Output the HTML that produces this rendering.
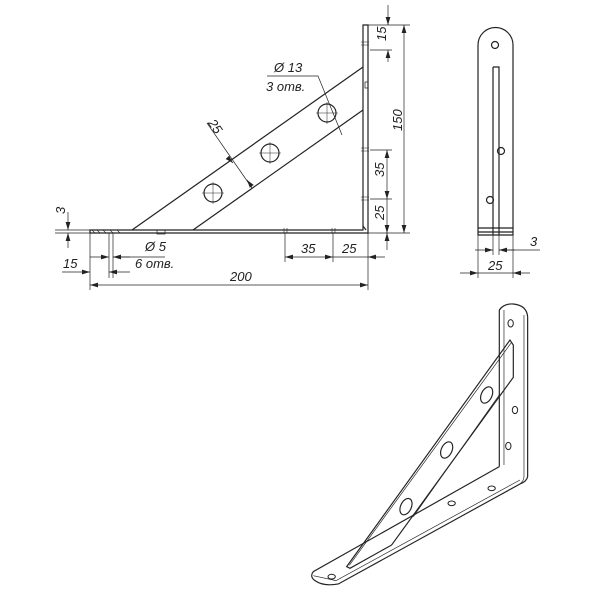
<!DOCTYPE html>
<html><head><meta charset="utf-8"><style>
html,body{margin:0;padding:0;background:#fff;}
svg{display:block;}
text{font-family:"Liberation Sans",sans-serif;font-style:italic;font-size:13px;fill:#222;}
</style></head><body>
<svg width="600" height="600" viewBox="0 0 600 600" xmlns="http://www.w3.org/2000/svg">
<defs>
<marker id="a" viewBox="0 0 10 6" refX="10" refY="3" markerWidth="8" markerHeight="5" orient="auto-start-reverse" markerUnits="userSpaceOnUse"><path d="M0,0L10,3L0,6z" fill="#222"/></marker>
</defs>
<g stroke="#222" fill="none" stroke-width="1.2">
<!-- front view -->
<path d="M90,230 H363 V25 H368 V233 H90 Z"/>
<path d="M363,226 L366,230" />
<line x1="132" y1="230" x2="363" y2="67"/>
<line x1="193" y1="230" x2="363" y2="110"/>
<circle cx="213" cy="193" r="9"/><circle cx="270" cy="153" r="9"/><circle cx="327" cy="113" r="9"/>
<g stroke-width="0.5"><path d="M202,193h22M213,182v22M259,153h22M270,142v22M316,113h22M327,102v22"/></g>
<rect x="157" y="230" width="8" height="4" stroke-width="0.7"/>
<rect x="365" y="82" width="3" height="6" stroke-width="0.7"/>
<g stroke-width="0.6"><path d="M284,228v5M287,228v5M332,228v5M335,228v5M361,42h8M361,45h8M361,148h8M361,151h8M361,197h8M361,200h8M92,230l3,3M97,230l3,3M103,230l3,3M110,230l3,3M117,230l3,3"/></g>
<!-- dimensions front -->
<g stroke-width="0.7">
<path d="M368,25H410M368,233H410M370,50H392M370,150H392M370,199H392"/>
<line x1="404" y1="25" x2="404" y2="233" marker-start="url(#a)" marker-end="url(#a)"/>
<line x1="388" y1="5" x2="388" y2="25" marker-end="url(#a)"/>
<line x1="388" y1="50" x2="388" y2="62" marker-start="url(#a)"/>
<line x1="387" y1="150" x2="387" y2="199" marker-start="url(#a)" marker-end="url(#a)"/>
<line x1="387" y1="199" x2="387" y2="233" marker-end="url(#a)"/>
<line x1="387" y1="233" x2="387" y2="250" marker-start="url(#a)"/>
<path d="M90,233V290M368,233V290M285,233V262M333,233V262M109,233V278M113,233V278"/>
<line x1="90" y1="285" x2="368" y2="285" marker-start="url(#a)" marker-end="url(#a)"/>
<line x1="285" y1="257" x2="333" y2="257" marker-start="url(#a)" marker-end="url(#a)"/>
<line x1="333" y1="257" x2="368" y2="257"/>
<line x1="385" y1="257" x2="368" y2="257" marker-end="url(#a)"/>
<line x1="90" y1="257" x2="109" y2="257" marker-end="url(#a)"/>
<line x1="130" y1="257" x2="113" y2="257" marker-end="url(#a)"/>
<line x1="113" y1="257" x2="165" y2="257"/>
<line x1="62" y1="272" x2="90" y2="272" marker-end="url(#a)"/>
<line x1="130" y1="272" x2="109" y2="272" marker-end="url(#a)"/>
<path d="M55,230H90M55,233H90"/>
<line x1="68" y1="212" x2="68" y2="230" marker-end="url(#a)"/>
<line x1="68" y1="248" x2="68" y2="233" marker-end="url(#a)"/>
<line x1="207" y1="123" x2="252" y2="188"/>
<line x1="230" y1="160" x2="233" y2="163" marker-end="url(#a)"/>
<line x1="250" y1="184" x2="247" y2="180" marker-end="url(#a)"/>
<path d="M267,76H318L342,135"/>
</g>
<!-- side view -->
<path d="M478,235V45A17.5,17.5 0 0 1 513,45V235Z"/>
<path d="M478,228H513M478,232H513M493,67H499V235M493,67V235"/>
<circle cx="495" cy="45" r="3.5"/><circle cx="501" cy="151" r="3.5"/><circle cx="490" cy="200" r="3.5"/>
<g stroke-width="0.7">
<path d="M478,235V278M513,235V278M493,235V255M499,235V255"/>
<line x1="475" y1="250" x2="493" y2="250" marker-end="url(#a)"/>
<line x1="515" y1="250" x2="499" y2="250" marker-end="url(#a)"/>
<line x1="499" y1="250" x2="540" y2="250"/>
<line x1="460" y1="273" x2="478" y2="273" marker-end="url(#a)"/>
<line x1="530" y1="273" x2="513" y2="273" marker-end="url(#a)"/>
<line x1="478" y1="273" x2="513" y2="273"/>
</g>
<!-- iso view -->
<g transform="translate(300,290) scale(0.3333)" stroke-width="3.5">
<path d="M598,530V60Q612,40 640,42Q680,46 683,80V560Q680,575 660,582L115,882Q70,890 45,872Q28,860 40,845L598,530"/>
<path d="M612,60V525M660,582Q672,572 672,560V75" stroke-width="2"/>
<path d="M40,857L108,872L660,570" stroke-width="2"/>
<path d="M140,830L630,150L640,165V262L275,765L150,835Z"/>
<path d="M148,826L634,158M600,312L340,680" stroke-width="2"/>
<ellipse cx="560" cy="315" rx="16" ry="26" transform="rotate(25 560 315)"/>
<ellipse cx="440" cy="480" rx="16" ry="26" transform="rotate(25 440 480)"/>
<ellipse cx="318" cy="650" rx="16" ry="26" transform="rotate(25 318 650)"/>
<g stroke-width="3">
<ellipse cx="632" cy="100" rx="8" ry="11"/><ellipse cx="645" cy="360" rx="8" ry="11"/><ellipse cx="625" cy="468" rx="8" ry="11"/>
<ellipse cx="575" cy="595" rx="11" ry="7"/><ellipse cx="455" cy="640" rx="11" ry="7"/><ellipse cx="95" cy="860" rx="11" ry="7"/>
</g>
</g>
</g>
<text x="377" y="40" transform="rotate(-90 382 36)">15</text>
<text x="391" y="128" transform="rotate(-90 398 124)">150</text>
<text x="375" y="176" transform="rotate(-90 380 172)">35</text>
<text x="375" y="219" transform="rotate(-90 380 215)">25</text>
<text x="209" y="130" transform="rotate(55 215 125)">25</text>
<text x="274" y="72">Ø 13</text>
<text x="266" y="91">3 отв.</text>
<text x="145" y="251">Ø 5</text>
<text x="135" y="268">6 отв.</text>
<text x="63" y="268">15</text>
<text x="57" y="214" transform="rotate(-90 61 210)">3</text>
<text x="301" y="253">35</text>
<text x="342" y="253">25</text>
<text x="230" y="281">200</text>
<text x="530" y="246">3</text>
<text x="488" y="270">25</text>
</svg>
</body></html>
